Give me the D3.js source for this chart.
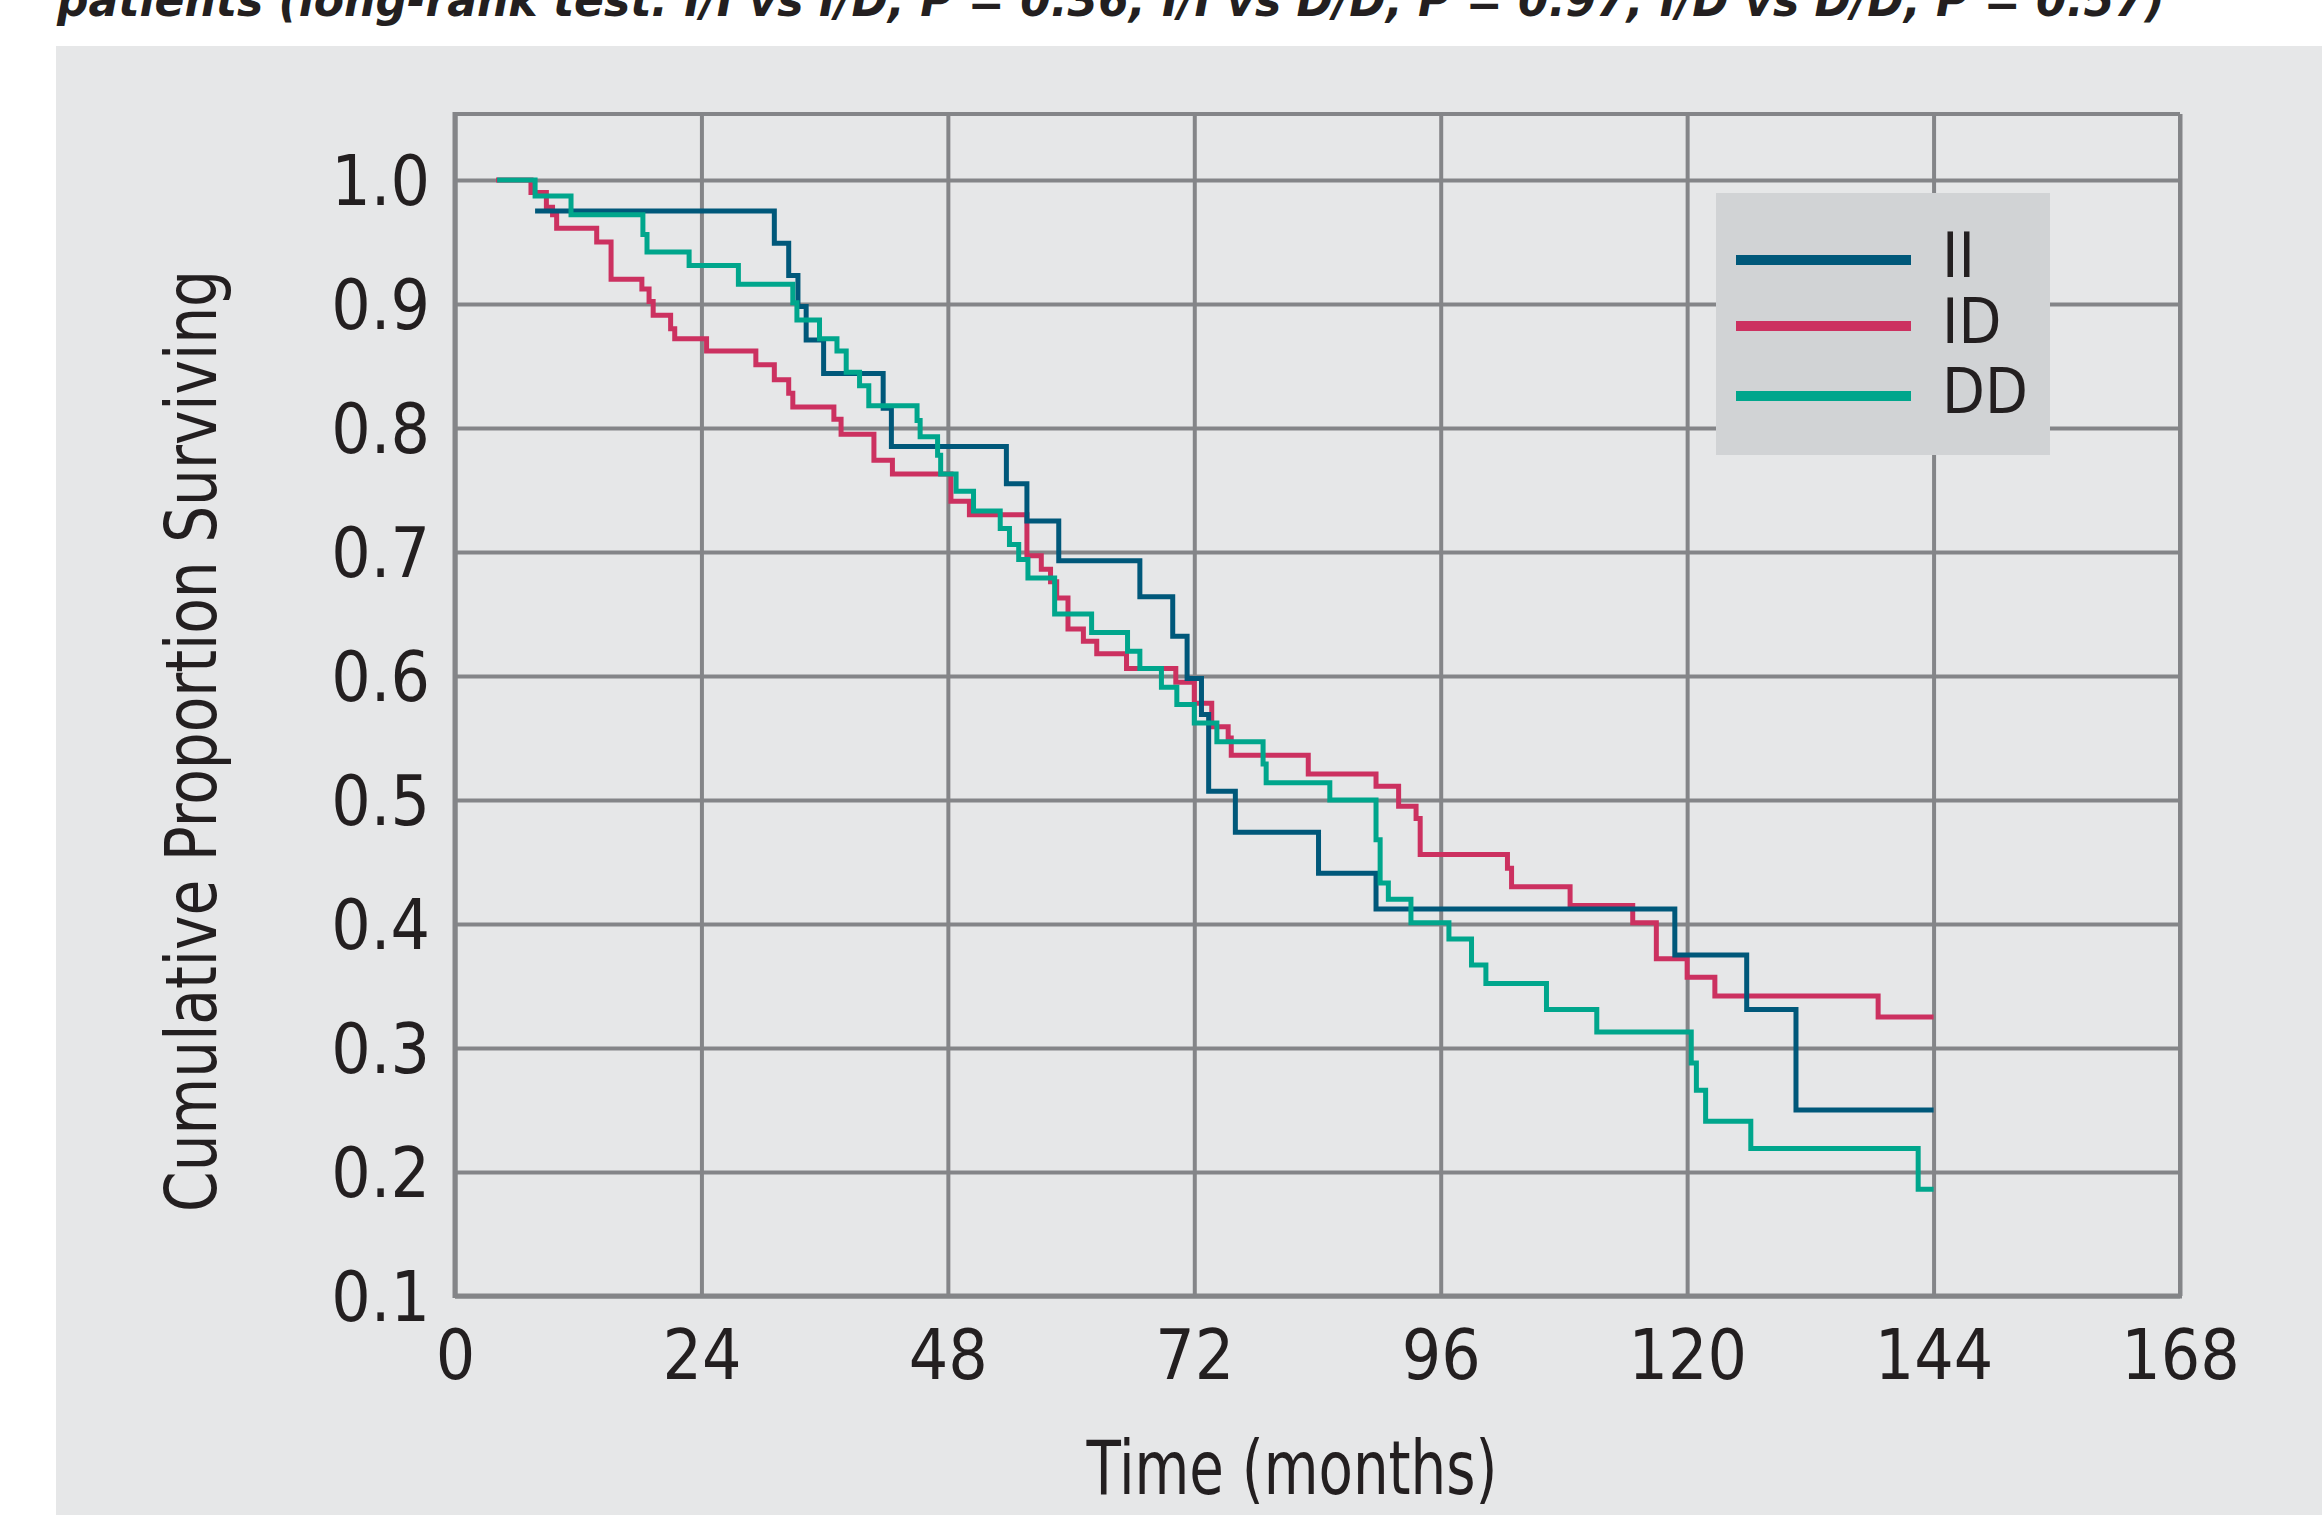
<!DOCTYPE html>
<html>
<head>
<meta charset="utf-8">
<script src="https://cdn.jsdelivr.net/npm/d3@7"></script>
<style>
  html, body { margin: 0; padding: 0; background: #ffffff; }
  svg text { font-family: "Liberation Sans Narrow", "DejaVu Sans Condensed", "Roboto Condensed", sans-serif; fill: #231f20; }
</style>
</head>
<body>
<svg id="chart" width="2322" height="1515"></svg>
<script>
// --- data ---
const xTicks = [0, 24, 48, 72, 96, 120, 144, 168];
const yTicks = [0.1, 0.2, 0.3, 0.4, 0.5, 0.6, 0.7, 0.8, 0.9, 1.0];
const seriesNames = ["II", "ID", "DD"];
const seriesColors = ["#00587a", "#cc3160", "#00a68c"];

// II
const iiTimes = [7.8, 31.1, 32.5, 33.4, 34.2, 35.9, 41.7, 42.5, 53.7, 55.7, 58.8, 66.7, 69.9, 71.3, 72.7, 73.4, 76.0, 84.1, 89.7, 118.8, 125.8, 130.6, 144];
const iiSurv  = [0.975, 0.949, 0.923, 0.898, 0.871, 0.844, 0.816, 0.785, 0.755, 0.725, 0.693, 0.664, 0.632, 0.598, 0.569, 0.507, 0.474, 0.441, 0.412, 0.375, 0.331, 0.250, 0.250];

// ID
const idTimes = [4.0, 7.4, 8.9, 9.5, 9.9, 13.8, 15.2, 18.2, 18.9, 19.3, 21.0, 21.4, 24.5, 29.3, 31.1, 32.5, 32.9, 36.9, 37.6, 40.8, 42.6, 48.3, 50.1, 55.7, 57.1, 58.0, 58.6, 59.7, 61.2, 62.5, 65.4, 70.2, 72.0, 73.7, 75.3, 75.6, 83.1, 89.7, 91.9, 93.6, 94.0, 102.5, 102.9, 108.6, 114.7, 117.0, 120.0, 122.7, 138.6, 144];
const idSurv  = [1.0, 0.990, 0.978, 0.972, 0.961, 0.950, 0.920, 0.912, 0.902, 0.891, 0.880, 0.872, 0.862, 0.851, 0.839, 0.828, 0.817, 0.807, 0.795, 0.774, 0.763, 0.741, 0.730, 0.697, 0.686, 0.676, 0.663, 0.638, 0.628, 0.618, 0.606, 0.595, 0.578, 0.559, 0.550, 0.536, 0.521, 0.511, 0.495, 0.485, 0.456, 0.445, 0.430, 0.415, 0.401, 0.372, 0.357, 0.342, 0.325, 0.325];

// DD
const ddTimes = [4.1, 7.8, 11.3, 18.3, 18.7, 22.8, 27.6, 32.9, 33.3, 35.5, 37.2, 38.1, 39.4, 40.3, 45.0, 45.3, 47.0, 47.3, 48.8, 50.5, 53.1, 54.0, 54.9, 55.8, 58.4, 62.0, 65.5, 66.7, 68.8, 70.3, 72.0, 74.2, 78.7, 79.0, 85.2, 89.7, 90.1, 90.9, 93.1, 96.8, 99.0, 100.4, 106.3, 111.2, 120.4, 120.9, 121.8, 126.2, 142.5, 144];
const ddSurv  = [1.0, 0.987, 0.972, 0.956, 0.942, 0.931, 0.916, 0.901, 0.887, 0.872, 0.862, 0.845, 0.834, 0.818, 0.806, 0.793, 0.778, 0.763, 0.749, 0.733, 0.719, 0.706, 0.694, 0.679, 0.650, 0.635, 0.620, 0.606, 0.591, 0.577, 0.562, 0.547, 0.529, 0.514, 0.500, 0.468, 0.433, 0.420, 0.401, 0.388, 0.367, 0.352, 0.331, 0.313, 0.288, 0.266, 0.241, 0.219, 0.186, 0.186];

const titleText = "patients (long-rank test: I/I vs I/D, P = 0.36; I/I vs D/D, P = 0.97; I/D vs D/D, P = 0.57)";

// --- layout ---
const width = 2322, height = 1515;
const plotLeft = 455, plotRight = 2180, plotTop = 114, plotBottom = 1296;
const gridColor = "#848588";

const svg = d3.select("#chart");

const x = d3.scaleLinear().domain([0, 168]).range([plotLeft, plotRight]);
const y = d3.scaleLinear().domain([0.1, 1.0]).range([plotBottom, 180]);

// grey panel behind everything
svg.append("rect")
  .attr("x", 56).attr("y", 46)
  .attr("width", width - 56).attr("height", height - 46)
  .attr("fill", "#e6e7e8");

// title cut off at the top of the image
svg.append("text")
  .attr("x", 57).attr("y", 16)
  .attr("textLength", 2108)
  .attr("lengthAdjust", "spacingAndGlyphs")
  .style("font-size", "46px")
  .style("font-weight", "bold")
  .style("font-style", "italic")
  .text(titleText);

// x axis + vertical grid lines
const xAxis = svg.append("g")
  .attr("transform", "translate(0," + plotBottom + ")")
  .call(d3.axisBottom(x)
    .tickValues(xTicks)
    .tickSize(-(plotBottom - plotTop))
    .tickSizeOuter(0)
    .tickPadding(34)
    .tickFormat(d3.format("d")));

// y axis + horizontal grid lines
const yAxis = svg.append("g")
  .attr("transform", "translate(" + plotLeft + ",0)")
  .call(d3.axisLeft(y)
    .tickValues(yTicks)
    .tickSize(-(plotRight - plotLeft))
    .tickSizeOuter(0)
    .tickPadding(25)
    .tickFormat(d3.format(".1f")));

[xAxis, yAxis].forEach(g => {
  g.select(".domain").remove();
  g.selectAll(".tick line").attr("stroke", gridColor).attr("stroke-width", 4);
  g.selectAll(".tick text")
    .style("font-size", "69px")
    .attr("fill", "#231f20");
});
yAxis.selectAll(".tick text").attr("dy", "0.36em");

// frame
svg.append("line")
  .attr("x1", plotLeft).attr("x2", plotRight)
  .attr("y1", plotTop).attr("y2", plotTop)
  .attr("stroke", gridColor).attr("stroke-width", 4);
svg.append("line")
  .attr("x1", plotRight).attr("x2", plotRight)
  .attr("y1", plotTop).attr("y2", plotBottom)
  .attr("stroke", gridColor).attr("stroke-width", 4);
svg.append("line")
  .attr("x1", plotLeft).attr("x2", plotLeft)
  .attr("y1", plotTop - 2).attr("y2", plotBottom + 2)
  .attr("stroke", gridColor).attr("stroke-width", 5);
svg.append("line")
  .attr("x1", plotLeft).attr("x2", plotRight + 2)
  .attr("y1", plotBottom).attr("y2", plotBottom)
  .attr("stroke", gridColor).attr("stroke-width", 5);

// axis titles
svg.append("text")
  .attr("x", 1292).attr("y", 1494)
  .attr("text-anchor", "middle")
  .attr("textLength", 411)
  .attr("lengthAdjust", "spacingAndGlyphs")
  .style("font-size", "74px")
  .text("Time (months)");

svg.append("text")
  .attr("transform", "translate(216,741) rotate(-90)")
  .attr("text-anchor", "middle")
  .attr("textLength", 942)
  .attr("lengthAdjust", "spacingAndGlyphs")
  .style("font-size", "72px")
  .text("Cumulative Proportion Surviving");

// survival curves (step after)
const curves = [
  { name: "ID", times: idTimes, surv: idSurv },
  { name: "II", times: iiTimes, surv: iiSurv },
  { name: "DD", times: ddTimes, surv: ddSurv }
];

const line = d3.line()
  .x(d => x(d[0]))
  .y(d => y(d[1]))
  .curve(d3.curveStepAfter);

curves.forEach(c => {
  const pts = c.times.map((t, i) => [t, c.surv[i]]);
  svg.append("path")
    .datum(pts)
    .attr("d", line)
    .attr("fill", "none")
    .attr("stroke", seriesColors[seriesNames.indexOf(c.name)])
    .attr("stroke-width", 5)
    .attr("stroke-linejoin", "miter");
});

// legend
const legend = svg.append("g").attr("transform", "translate(1716,193)");
legend.append("rect")
  .attr("width", 334).attr("height", 262)
  .attr("fill", "#d1d3d5");

seriesNames.forEach((name, i) => {
  const ly = [67, 133, 203][i];
  legend.append("line")
    .attr("x1", 20).attr("x2", 195)
    .attr("y1", ly).attr("y2", ly)
    .attr("stroke", seriesColors[i])
    .attr("stroke-width", 10);
  legend.append("text")
    .attr("x", 226).attr("y", ly + 17)
    .style("font-size", "62px")
    .text(name);
});
</script>
</body>
</html>
